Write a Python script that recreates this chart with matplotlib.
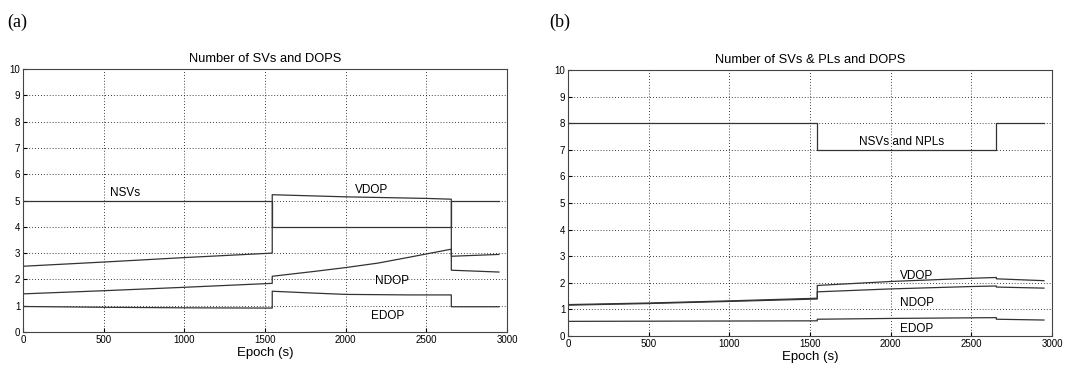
import matplotlib.pyplot as plt

plt.rcParams['font.family'] = ['Liberation Sans', 'DejaVu Sans']

# panel (a): epochs and values
a_nsv_t = [0, 1545, 1545, 2655, 2655, 2950]
a_nsv = [5, 5, 4, 4, 5, 5]
a_vdop_t = [0, 500, 1000, 1545, 1545, 2000, 2500, 2655, 2655, 2950]
a_vdop = [2.5, 2.66, 2.83, 3.0, 5.22, 5.14, 5.08, 5.05, 2.88, 2.95]
a_ndop_t = [0, 500, 1000, 1545, 1545, 1800, 2000, 2200, 2400, 2655, 2655, 2950]
a_ndop = [1.45, 1.57, 1.7, 1.85, 2.12, 2.3, 2.45, 2.62, 2.85, 3.15, 2.35, 2.28]
a_edop_t = [0, 500, 1000, 1545, 1545, 1800, 2000, 2400, 2655, 2655, 2950]
a_edop = [0.97, 0.94, 0.92, 0.91, 1.55, 1.48, 1.43, 1.41, 1.41, 0.96, 0.96]

# panel (b)
b_nsv_t = [0, 1545, 1545, 2655, 2655, 2950]
b_nsv = [8, 8, 7, 7, 8, 8]
b_vdop_t = [0, 500, 1000, 1545, 1545, 2000, 2500, 2655, 2655, 2950]
b_vdop = [1.18, 1.24, 1.32, 1.42, 1.9, 2.05, 2.17, 2.2, 2.15, 2.08]
b_ndop_t = [0, 500, 1000, 1545, 1545, 2000, 2500, 2655, 2655, 2950]
b_ndop = [1.16, 1.22, 1.3, 1.39, 1.66, 1.77, 1.86, 1.88, 1.84, 1.8]
b_edop_t = [0, 1545, 1545, 2000, 2655, 2655, 2950]
b_edop = [0.55, 0.57, 0.63, 0.66, 0.69, 0.63, 0.6]

a_labels = [("NSVs", 630, 5.3), ("VDOP", 2160, 5.4), ("NDOP", 2290, 1.95), ("EDOP", 2260, 0.6)]
b_labels = [("NSVs and NPLs", 2070, 7.3), ("VDOP", 2160, 2.25), ("NDOP", 2160, 1.25), ("EDOP", 2160, 0.25)]

fig = plt.figure(figsize=(10.84, 3.65), dpi=100)
ax1 = fig.add_axes([0.0212, 0.0904, 0.4465, 0.7205])
ax2 = fig.add_axes([0.524, 0.0795, 0.4465, 0.7285])


def draw(ax, series, labels, title):
    for t, v in series:
        ax.plot(t, v, color='#333333', lw=0.9)
    for txt, x, y in labels:
        ax.text(x, y, txt, ha='center', va='center', fontsize=8.5)
    ax.set_xlim(0, 3000)
    ax.set_ylim(0, 10)
    ax.set_xticks(range(0, 3001, 500))
    ax.set_yticks(range(0, 11))
    ax.grid(True, linestyle=(0, (1, 2.5)), color='black', lw=0.6)
    ax.tick_params(direction='in', labelsize=7, length=3, pad=2)
    for s in ax.spines.values():
        s.set_linewidth(0.8)
        s.set_color('#444444')
    ax.set_title(title, fontsize=9.3, pad=5)
    ax.set_xlabel('Epoch (s)', fontsize=9.5, labelpad=1.5)


draw(ax1, [(a_nsv_t, a_nsv), (a_vdop_t, a_vdop), (a_ndop_t, a_ndop), (a_edop_t, a_edop)],
     a_labels, 'Number of SVs and DOPS')
draw(ax2, [(b_nsv_t, b_nsv), (b_vdop_t, b_vdop), (b_ndop_t, b_ndop), (b_edop_t, b_edop)],
     b_labels, 'Number of SVs & PLs and DOPS')

fig.text(0.007, 0.94, '(a)', fontsize=13, family=['Liberation Serif'], va='center')
fig.text(0.507, 0.94, '(b)', fontsize=13, family=['Liberation Serif'], va='center')

fig.savefig('out.png', dpi=100)
